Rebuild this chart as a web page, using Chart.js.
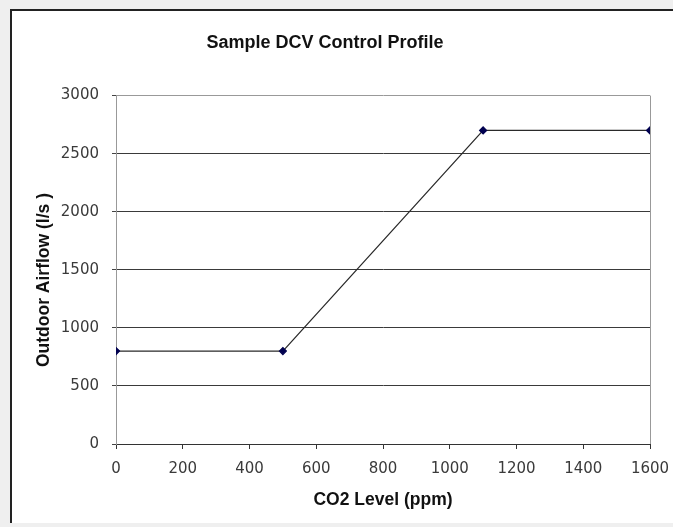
<!DOCTYPE html>
<html>
<head>
<meta charset="utf-8">
<script src="https://cdn.jsdelivr.net/npm/chart.js@4/dist/chart.umd.min.js"></script>
<style>
  html,body{margin:0;padding:0;background:#efefef;}
  #wrap{position:relative;width:673px;height:527px;overflow:hidden;}
  #box{position:absolute;left:10px;top:9px;width:680px;height:512px;background:#fff;
       border-top:2px solid #222;border-left:2px solid #222;}
  #c{position:absolute;left:0;top:0;}
</style>
</head>
<body>
<div id="wrap">
  <div id="box"></div>
  <canvas id="c" width="673" height="527"></canvas>
</div>
<script>
/* ===== 資料 ===== */
const CO2  = [0, 500, 1100, 1600];
const AIR  = [800, 800, 2700, 2700];
const X_MIN = 0, X_MAX = 1600, X_STEP = 200;
const Y_MIN = 0, Y_MAX = 3000, Y_STEP = 500;
const TITLE = 'Sample DCV Control Profile';
const X_TITLE = 'CO2 Level (ppm)';
const Y_TITLE = 'Outdoor Airflow (l/s )';

const FONT = '"Liberation Sans", Arial, sans-serif';
const TICK_FONT = {family:'"DejaVu Sans", sans-serif', size:15};
const PLOT = {left:116, right:650, top:95, bottom:444};

const pts = CO2.map((x,i)=>({x, y:AIR[i]}));

// 縱軸標題（Excel 版位置略低於中心）
const yTitle = {
  id:'yTitle',
  afterDraw(ch){
    const ctx = ch.ctx;
    ctx.save();
    ctx.translate(44, 280);
    ctx.rotate(-Math.PI/2);
    ctx.font = 'bold 17.5px ' + FONT;
    ctx.fillStyle = '#111';
    ctx.textAlign = 'center';
    ctx.textBaseline = 'middle';
    ctx.fillText(Y_TITLE, 0, 0);
    ctx.restore();
  }
};

new Chart(document.getElementById('c'),{
  type:'line',
  data:{datasets:[{
    data:pts,
    borderColor:'#2a2a2a', borderWidth:1.2,
    pointStyle:'rectRot', pointRadius:3.5,
    pointBackgroundColor:'#000050', pointBorderColor:'#000050',
    tension:0, fill:false
  }]},
  options:{
    responsive:false, animation:false,
    layout:{padding:{left:0,right:673-PLOT.right,top:0,bottom:0}},
    plugins:{
      legend:{display:false}, tooltip:{enabled:false},
      title:{display:true, text:TITLE, color:'#111',
             font:{family:FONT,size:18,weight:'bold'},
             padding:{top:32,bottom:42}}
    },
    scales:{
      x:{type:'linear', min:X_MIN, max:X_MAX,
         ticks:{stepSize:X_STEP, color:'#3a3a3a', padding:11, font:TICK_FONT, callback:v=>String(v)},
         grid:{drawOnChartArea:true, tickLength:5, tickColor:'#333',
               color:c=>c.tick && c.tick.value===X_MAX ? '#999' : 'rgba(0,0,0,0)'},
         border:{color:'#333', width:1},
         title:{display:true, text:X_TITLE, color:'#111',
                font:{family:FONT,size:17.5,weight:'bold'}, padding:{top:4,bottom:16}},
         afterFit:s=>{ s.height = 527 - PLOT.bottom; s.paddingLeft = 0; s.paddingRight = 0; }
      },
      y:{type:'linear', min:Y_MIN, max:Y_MAX,
         ticks:{stepSize:Y_STEP, color:'#3a3a3a', padding:13, font:TICK_FONT, callback:v=>String(v)},
         grid:{tickLength:4, tickColor:'#444',
               color:c=>c.tick && c.tick.value===Y_MAX ? '#999' : '#3a3a3a'},
         border:{color:'#999', width:1},
         afterFit:s=>{ s.width = PLOT.left; }
      }
    }
  },
  plugins:[yTitle]
});
</script>
</body>
</html>
